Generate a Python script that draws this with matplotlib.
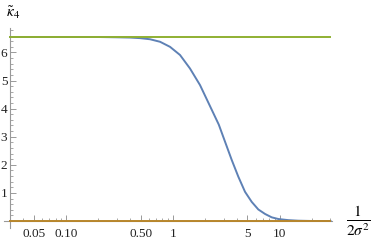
import numpy as np
import matplotlib
matplotlib.use("Agg")
import matplotlib.pyplot as plt
from matplotlib.ticker import FixedLocator, FixedFormatter, NullFormatter

# values
x_curve = [0.03, 0.1, 0.2, 0.3, 0.4, 0.494, 0.613, 0.761, 0.943, 1.17, 1.45, 1.80,
           2.24, 2.70, 3.09, 3.57, 4.11, 4.75, 5.49, 6.33, 7.32, 8.45, 9.75,
           12.1, 15.0, 20, 30]
y_curve = [6.55, 6.55, 6.55, 6.54, 6.53, 6.51, 6.47, 6.38, 6.20, 5.91, 5.43, 4.84,
           4.08, 3.43, 2.82, 2.17, 1.58, 1.04, 0.68, 0.41, 0.25, 0.13, 0.07,
           0.03, 0.01, 0.0, 0.0]
x_range = [0.03, 30]
upper_level = [6.55, 6.55]
lower_level = [0.0, 0.0]

major_x = [0.05, 0.1, 0.5, 1, 5, 10]
major_x_labels = ["0.05", "0.10", "0.50", "1", "5", "10"]
minor_x = [0.03, 0.04, 0.06, 0.07, 0.08, 0.09, 0.2, 0.3, 0.4, 0.6, 0.7, 0.8, 0.9,
           2, 3, 4, 6, 7, 8, 9, 20, 30]
major_y = [1, 2, 3, 4, 5, 6]

plt.rcParams['font.family'] = ['Liberation Serif', 'DejaVu Serif']
plt.rcParams['mathtext.fontset'] = 'stix'

fig = plt.figure(figsize=(3.74, 2.43), dpi=100)
ax = fig.add_axes([0.0107, 0.0617, 0.877, 0.823])

ax.plot(x_curve, y_curve, color='#5E81B5', lw=1.4, zorder=3,
        solid_joinstyle='round')
ax.plot(x_range, lower_level, color='#B8862B', lw=1.4, zorder=4)
ax.plot(x_range, upper_level, color='#8FB032', lw=1.4, zorder=4)

ax.set_xscale('log')
ax.set_xlim(0.0263, 31.0)
ax.set_ylim(-0.25, 6.87)

for s in ['top', 'right']:
    ax.spines[s].set_visible(False)
ax.spines['left'].set_position(('data', 0.03))
ax.spines['bottom'].set_position(('data', 0))
for s in ['left', 'bottom']:
    ax.spines[s].set_color('#999999')
    ax.spines[s].set_linewidth(0.8)

ax.xaxis.set_major_locator(FixedLocator(major_x))
ax.xaxis.set_major_formatter(FixedFormatter(major_x_labels))
ax.xaxis.set_minor_locator(FixedLocator(minor_x))
ax.xaxis.set_minor_formatter(NullFormatter())
ax.yaxis.set_major_locator(FixedLocator(major_y))
ax.yaxis.set_minor_locator(FixedLocator([v / 5 for v in range(1, 35) if v % 5]))

ax.tick_params(axis='both', which='both', direction='in', color='#999999',
               labelsize=9.5, labelcolor='#222222')
ax.tick_params(axis='both', which='major', length=4, width=0.7)
ax.tick_params(axis='both', which='minor', length=2, width=0.6)
ax.tick_params(axis='x', which='major', pad=5)
ax.tick_params(axis='y', which='major', pad=2)

fig.text(13 / 374, 1 - 13 / 243, r'$\tilde{\kappa}_4$', fontsize=11,
         ha='center', va='center')
fig.text(358 / 374, 1 - 221 / 243, r'$\frac{1}{2\sigma^2}$', fontsize=16,
         ha='center', va='center')

fig.savefig('out.png', dpi=100)
